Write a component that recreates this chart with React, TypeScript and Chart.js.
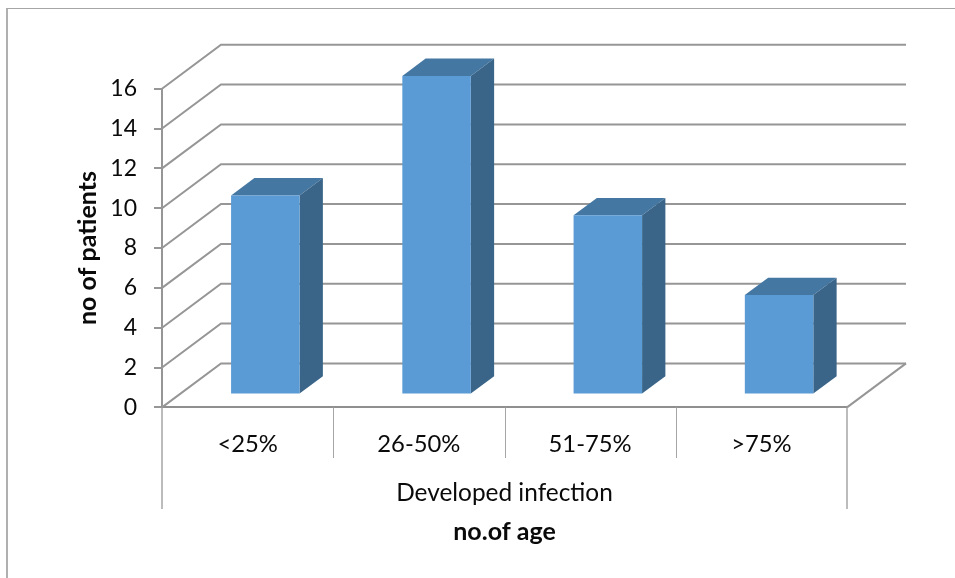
import React, { useEffect, useRef } from "react";
import { Chart, registerables } from "chart.js";

Chart.register(...registerables);

const categories = ["<25%", "26-50%", "51-75%", ">75%"];
const patients = [10, 16, 9, 5];
const yTicksMax = 16;
const yTickStep = 2;
const groupLabel = "Developed infection";
const xTitle = "no.of age";
const yTitle = "no of patients";

const FONT = "Lato, 'Open Sans', sans-serif";
const TEXT = "#0a0a0a";
const LINE = "#969696";
const FACE = "#5b9bd5";
const TOP_FACE = "#4577a3";
const SIDE_FACE = "#3a6588";

// Projection of the box: wall depth, bar offset from the front plane, bar depth.
const WALL = { dx: 59, dy: -44 };
const BAR_SHIFT = { dx: 17.7, dy: -12.8 };
const BAR_DEPTH = { dx: 23.3, dy: -17.3 };

const line = (ctx: CanvasRenderingContext2D, pts: number[][], width: number, color: string) => {
  ctx.beginPath();
  pts.forEach(([x, y], i) => (i ? ctx.lineTo(x, y) : ctx.moveTo(x, y)));
  ctx.lineWidth = width;
  ctx.strokeStyle = color;
  ctx.stroke();
};

const poly = (ctx: CanvasRenderingContext2D, pts: number[][], color: string) => {
  ctx.beginPath();
  pts.forEach(([x, y], i) => (i ? ctx.lineTo(x, y) : ctx.moveTo(x, y)));
  ctx.closePath();
  ctx.fillStyle = color;
  ctx.fill();
};

const box3d = {
  id: "box3d",
  // Back wall, side wall, floor edge.
  beforeDatasetsDraw(chart: any) {
    const { ctx, scales } = chart;
    const { x, y } = scales;
    ctx.save();
    for (let v = 0; v <= yTicksMax; v += yTickStep) {
      const py = y.getPixelForValue(v);
      line(
        ctx,
        [
          [x.left, py],
          [x.left + WALL.dx, py + WALL.dy],
          [x.right + WALL.dx, py + WALL.dy],
        ],
        2,
        LINE
      );
    }
    const y0 = y.getPixelForValue(0);
    line(ctx, [[x.right, y0], [x.right + WALL.dx, y0 + WALL.dy]], 2, LINE);
    ctx.restore();
  },
  // Shifts the bars back from the front plane and adds their top and side faces.
  beforeDatasetDraw(chart: any, args: any) {
    const { ctx } = chart;
    ctx.save();
    ctx.translate(BAR_SHIFT.dx, BAR_SHIFT.dy);
    args.meta.data.forEach((bar: any) => {
      const { x, y, base, width } = bar.getProps(["x", "y", "base", "width"]);
      const l = x - width / 2;
      const r = x + width / 2;
      poly(ctx, [[l, y], [r, y], [r + BAR_DEPTH.dx, y + BAR_DEPTH.dy], [l + BAR_DEPTH.dx, y + BAR_DEPTH.dy]], TOP_FACE);
      poly(ctx, [[r, y], [r + BAR_DEPTH.dx, y + BAR_DEPTH.dy], [r + BAR_DEPTH.dx, base + BAR_DEPTH.dy], [r, base]], SIDE_FACE);
    });
  },
  afterDatasetDraw(chart: any) {
    chart.ctx.restore();
  },
  // Category dividers and the second-level group label beneath the axis.
  afterDraw(chart: any) {
    const { ctx, scales } = chart;
    const { x, y } = scales;
    const y0 = y.getPixelForValue(0);
    const step = (x.right - x.left) / categories.length;
    ctx.save();
    for (let i = 1; i < categories.length; i++) {
      const px = Math.round(x.left + i * step) + 0.5;
      line(ctx, [[px, y0], [px, 458]], 1, "#a6a6a6");
    }
    line(ctx, [[x.left, y0], [x.left, 509]], 1.5, "#a6a6a6");
    line(ctx, [[x.right, y0], [x.right, 509]], 1.5, "#a6a6a6");
    ctx.font = `24.4px ${FONT}`;
    ctx.fillStyle = TEXT;
    ctx.textAlign = "center";
    ctx.textBaseline = "middle";
    ctx.fillText(groupLabel, (x.left + x.right) / 2, 493);
    ctx.restore();
  },
};

export default function App() {
  const ref = useRef<HTMLCanvasElement>(null);
  useEffect(() => {
    const chart = new Chart(ref.current!, {
      type: "bar",
      data: {
        labels: categories,
        datasets: [
          {
            data: patients,
            backgroundColor: FACE,
            borderWidth: 0,
            categoryPercentage: 1,
            barPercentage: 0.4,
            clip: false as any,
          },
        ],
      },
      plugins: [box3d],
      options: {
        responsive: false,
        animation: false,
        layout: { padding: { left: 0, top: 88.7, right: 108, bottom: 0 } },
        plugins: { legend: { display: false }, tooltip: { enabled: false } },
        scales: {
          x: {
            afterFit(s: any) {
              s.height = 578 - 407.4;
            },
            grid: { display: false, drawTicks: false },
            border: { display: true, color: "#8f8f8f", width: 2 },
            ticks: { padding: 23, color: TEXT, font: { family: FONT, size: 23.8 }, maxRotation: 0 },
            title: {
              display: true,
              text: xTitle,
              color: TEXT,
              font: { family: FONT, size: 25, weight: "bold" },
              padding: { top: 0, bottom: 31 },
            },
          },
          y: {
            min: 0,
            max: yTicksMax,
            afterFit(s: any) {
              s.width = 162;
            },
            grid: { drawOnChartArea: false, drawTicks: true, tickLength: 8, color: LINE, lineWidth: 2 },
            border: { display: true, color: LINE, width: 2 },
            ticks: { stepSize: yTickStep, padding: 17, color: TEXT, font: { family: FONT, size: 23 } },
            title: {
              display: true,
              text: yTitle,
              color: TEXT,
              font: { family: FONT, size: 25, weight: "bold" },
              padding: { top: 73, bottom: 0 },
            },
          },
        },
      },
    } as any);
    return () => chart.destroy();
  }, []);
  return (
    <div style={{ position: "absolute", left: 0, top: 0, width: 955, height: 578, background: "#fff", overflow: "hidden" }}>
      <div
        style={{
          position: "absolute",
          left: 6,
          top: 8,
          right: -4,
          bottom: -4,
          borderLeft: "2px solid #b0b0b0",
          borderTop: "1px solid #a6a6a6",
        }}
      />
      <canvas ref={ref} width={955} height={578} style={{ position: "absolute", left: 0, top: 0, display: "block" }} />
    </div>
  );
}
